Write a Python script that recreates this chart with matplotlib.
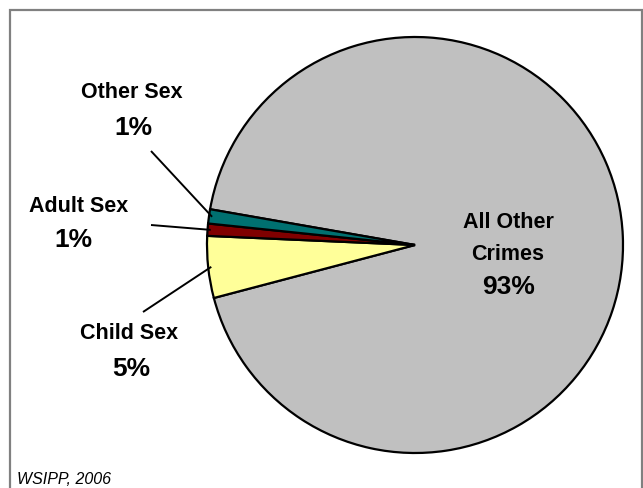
import numpy as np
import matplotlib
matplotlib.use("Agg")
import matplotlib.pyplot as plt
from matplotlib.patches import Rectangle

# ---- data ----
categories = ["All Other Crimes", "Child Sex", "Adult Sex", "Other Sex"]
values = [93.15, 4.8, 0.95, 1.1]
colors = ["#C0C0C0", "#FFFF99", "#800000", "#007070"]
source = "WSIPP, 2006"

W, H = 643, 488
fig = plt.figure(figsize=(W / 100, H / 100), dpi=100)
ax = fig.add_axes([0, 0, 1, 1])

def py(y):
    return H - y

cx, cy, R = 415, py(245), 208
start = 170.1
wedges, _ = ax.pie(values, colors=colors, startangle=start, counterclock=False,
                   center=(cx, cy), radius=R, frame=True,
                   wedgeprops=dict(edgecolor="black", linewidth=1.6))
ax.set_xlim(0, W)
ax.set_ylim(0, H)
ax.set_aspect("equal")
ax.axis("off")

# border
ax.add_patch(Rectangle((9.5, py(500)), 632.5, 490.5, fill=False,
                       edgecolor="#808080", linewidth=1.6, zorder=5))

fam = ["Liberation Sans", "DejaVu Sans"]
name_fs, pct_fs = 15.5, 19
pcts = [f"{v:.0f}%" for v in values]

layout = {
    "Other Sex": dict(names=[("Other Sex", 132, 98)], pct=(133, 135), line=(151, 151)),
    "Adult Sex": dict(names=[("Adult Sex", 79, 212)], pct=(73, 247), line=(151, 225)),
    "Child Sex": dict(names=[("Child Sex", 129, 339)], pct=(131, 376), line=(143, 312)),
    "All Other Crimes": dict(names=[("All Other", 508, 228), ("Crimes", 508, 260)],
                             pct=(509, 294), line=None),
}

for i, cat in enumerate(categories):
    L = layout[cat]
    for txt, x, yb in L["names"]:
        ax.text(x, py(yb), txt, ha="center", va="baseline", fontsize=name_fs,
                fontweight="bold", family=fam, color="black")
    x, yb = L["pct"]
    ax.text(x, py(yb), pcts[i], ha="center", va="baseline", fontsize=pct_fs,
            fontweight="bold", family=fam, color="black")
    if L["line"] is not None:
        w = wedges[i]
        mid = np.deg2rad((w.theta1 + w.theta2) / 2)
        ex = cx + 0.985 * R * np.cos(mid)
        ey = cy + 0.985 * R * np.sin(mid)
        sx, sy = L["line"]
        ax.plot([sx, ex], [py(sy), ey], color="black", linewidth=1.4,
                solid_capstyle="butt", zorder=6)

ax.text(17, py(484), source, ha="left", va="baseline", fontsize=11.5,
        fontstyle="italic", family=fam, color="black")

fig.savefig("out.png", dpi=100)
